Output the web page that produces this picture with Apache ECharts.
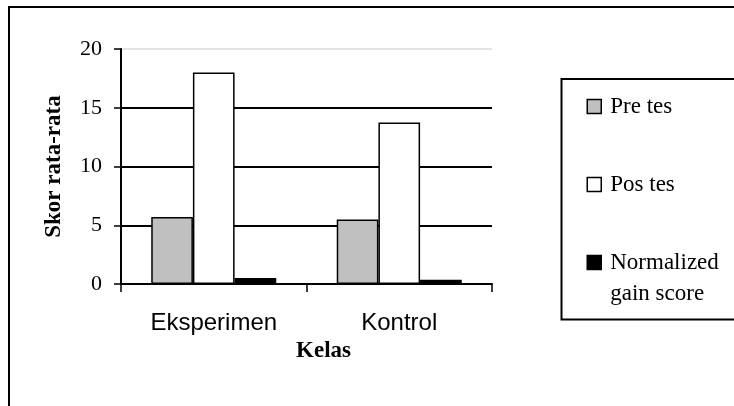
<!DOCTYPE html>
<html>
<head>
<meta charset="utf-8">
<script src="https://cdn.jsdelivr.net/npm/echarts@6/dist/echarts.min.js"></script>
<style>
html,body{margin:0;padding:0;background:#fff;}
#c{width:734px;height:406px;}
</style>
</head>
<body>
<div id="c"></div>
<script>
var categories = ['Eksperimen', 'Kontrol'];
var preTes = [5.7, 5.5];
var posTes = [18.0, 13.75];
var gainScore = [0.52, 0.36];
var seriesNames = ['Pre tes', 'Pos tes', 'Normalized gain score'];
var yTicks = [0, 5, 10, 15, 20];

var serif = '"Liberation Serif", "Times New Roman", serif';
var sans = '"Liberation Sans", Arial, sans-serif';

var chart = echarts.init(document.getElementById('c'), null, {renderer: 'canvas'});

function legendCfg(name, top, extraText) {
  var ts = {fontFamily: serif, fontSize: 23, color: '#000', padding: [0, 0, 0, 4]};
  if (extraText) { for (var k in extraText) ts[k] = extraText[k]; }
  return {
    data: [name], orient: 'vertical', left: 586.5, top: top, padding: 0,
    itemWidth: 14, itemHeight: 14, icon: 'rect', selectedMode: false,
    itemStyle: {borderColor: '#000', borderWidth: 1.5},
    textStyle: ts,
    formatter: function (n) { return n === 'Normalized gain score' ? '\nNormalized\ngain score' : n; }
  };
}

chart.setOption({
  animation: false,
  backgroundColor: '#fff',
  graphic: [
    {type: 'rect', shape: {x: 9, y: 7, width: 800, height: 500}, z: -10,
     style: {fill: 'none', stroke: '#000', lineWidth: 2}, silent: true},
    {type: 'rect', shape: {x: 561.5, y: 79, width: 300, height: 240.5}, z: -5,
     style: {fill: '#fff', stroke: '#000', lineWidth: 2}, silent: true}
  ],
  legend: [
    legendCfg(seriesNames[0], 95),
    legendCfg(seriesNames[1], 173),
    legendCfg(seriesNames[2], 216, {lineHeight: 31})
  ],
  grid: {left: 121, right: 242, top: 49, bottom: 122, containLabel: false},
  xAxis: {
    type: 'category',
    data: categories,
    name: 'Kelas',
    nameLocation: 'middle',
    nameGap: 46,
    nameTextStyle: {fontFamily: serif, fontWeight: 'bold', fontSize: 23, color: '#000', padding: [0, 0, 0, 34]},
    axisLine: {lineStyle: {color: '#000', width: 2}},
    axisTick: {show: true, length: 8, alignWithLabel: false, lineStyle: {color: '#000', width: 1.5}},
    axisLabel: {fontFamily: sans, fontSize: 24, color: '#000', margin: 27},
    splitLine: {show: false}
  },
  yAxis: {
    type: 'value',
    min: 0, max: 20, interval: 5,
    name: 'Skor rata-rata',
    nameLocation: 'middle',
    nameGap: 55,
    nameTextStyle: {fontFamily: serif, fontWeight: 'bold', fontSize: 23, color: '#000'},
    axisLine: {show: true, lineStyle: {color: '#000', width: 2}},
    axisTick: {show: true, length: 7, lineStyle: {color: '#000', width: 1.5}},
    axisLabel: {fontFamily: serif, fontSize: 22, color: '#000', margin: 19,
      formatter: function (v) { return yTicks.indexOf(v) >= 0 ? String(v) : ''; }},
    splitLine: {show: true, lineStyle: {color: ['#000', '#000', '#000', '#000', '#e4e4e4'], width: 2}}
  },
  series: [
    {name: seriesNames[0], type: 'bar', data: preTes, barGap: '0%', barCategoryGap: '32.6%',
     itemStyle: {color: '#c0c0c0', borderColor: '#000', borderWidth: 1.5}},
    {name: seriesNames[1], type: 'bar', data: posTes, barGap: '0%', barCategoryGap: '32.6%',
     itemStyle: {color: '#ffffff', borderColor: '#000', borderWidth: 1.5}},
    {name: seriesNames[2], type: 'bar', data: gainScore, barGap: '0%', barCategoryGap: '32.6%',
     itemStyle: {color: '#000000', borderColor: '#000', borderWidth: 1.5}}
  ]
});
</script>
</body>
</html>
